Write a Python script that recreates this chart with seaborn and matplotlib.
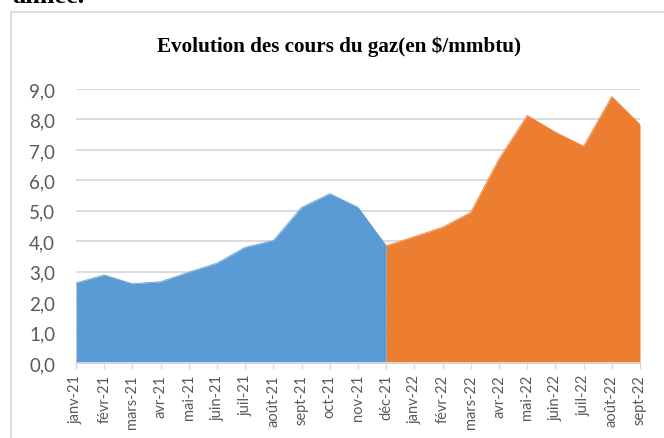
import matplotlib
# Use Agg backend for non-interactive plotting
matplotlib.use('Agg')
import matplotlib.pyplot as plt
import seaborn as sns
import pandas as pd
from matplotlib.patches import Rectangle

# Monthly gas prices ($/mmbtu)
months = ['janv-21', 'févr-21', 'mars-21', 'avr-21', 'mai-21', 'juin-21',
          'juil-21', 'août-21', 'sept-21', 'oct-21', 'nov-21', 'déc-21',
          'janv-22', 'févr-22', 'mars-22', 'avr-22', 'mai-22', 'juin-22',
          'juil-22', 'août-22', 'sept-22']
prices_2021 = [2.63, 2.89, 2.60, 2.67, 2.98, 3.28, 3.80, 4.02, 5.11, 5.56, 5.11, 3.85]
# second series starts on déc-21 so both areas join
prices_2022 = [3.85, 4.15, 4.46, 4.95, 6.70, 8.13, 7.58, 7.12, 8.75, 7.83]
y_ticks = [0, 1, 2, 3, 4, 5, 6, 7, 8, 9]

blue = '#5B9BD5'
orange = '#ED7D31'
grid_grey = '#D9D9D9'
text_grey = '#595959'

df21 = pd.DataFrame({'idx': range(0, len(prices_2021)), 'price': prices_2021})
start22 = len(months) - len(prices_2022)
df22 = pd.DataFrame({'idx': range(start22, len(months)), 'price': prices_2022})

sns.set_theme(style='white')
plt.rcParams['font.family'] = ['Lato', 'DejaVu Sans']

fig = plt.figure(figsize=(6.64, 4.39), dpi=100)
ax = fig.add_axes([76 / 664, 75 / 439, 564 / 664, 274 / 439])

# areas
ax.fill_between(df21['idx'], df21['price'], color=blue, lw=0, zorder=2)
ax.fill_between(df22['idx'], df22['price'], color=orange, lw=0, zorder=2)
sns.lineplot(data=df21, x='idx', y='price', color=blue, lw=0.6, ax=ax, zorder=3)
sns.lineplot(data=df22, x='idx', y='price', color=orange, lw=0.6, ax=ax, zorder=3)

ax.set_xlim(0, len(months) - 1)
ax.set_ylim(0, 9)
ax.set_xticks(range(len(months)))
ax.set_xticklabels(months, rotation=90, fontsize=10.5, color=text_grey)
ax.set_yticks(y_ticks)
ax.set_yticklabels([f'{v:.1f}'.replace('.', ',') for v in y_ticks], fontsize=13.5, color=text_grey)
ax.set_xlabel('')
ax.set_ylabel('')

ax.yaxis.grid(True, color=grid_grey, lw=1.3, zorder=0)
ax.set_axisbelow(True)
for side in ['top', 'right', 'left']:
    ax.spines[side].set_visible(False)
ax.spines['bottom'].set_color(grid_grey)
ax.spines['bottom'].set_linewidth(1.3)
ax.spines['bottom'].set_zorder(4)
ax.tick_params(axis='x', length=4, width=1, color=grid_grey, pad=4, direction='out', bottom=True)
ax.tick_params(axis='y', length=0, pad=15)

fig.text(0.511, 1 - 52 / 439, 'Evolution des cours du gaz(en $/mmbtu)',
         ha='center', va='baseline', fontsize=15.2, fontweight='bold',
         family=['Liberation Serif', 'DejaVu Serif'], color='black')

# text from the page above the chart, cut by the crop
fig.text(12 / 664, 1 - 3 / 439, 'année.', ha='left', va='baseline', fontsize=19,
         fontweight='bold', family=['Liberation Serif', 'DejaVu Serif'], color='black')

# chart border
fig.patches.append(Rectangle((11 / 664, -0.1), 2, 1.1 - 13 / 439, transform=fig.transFigure,
                             fill=False, ec=grid_grey, lw=1.3))

fig.savefig('out.png', dpi=100)
plt.close(fig)
